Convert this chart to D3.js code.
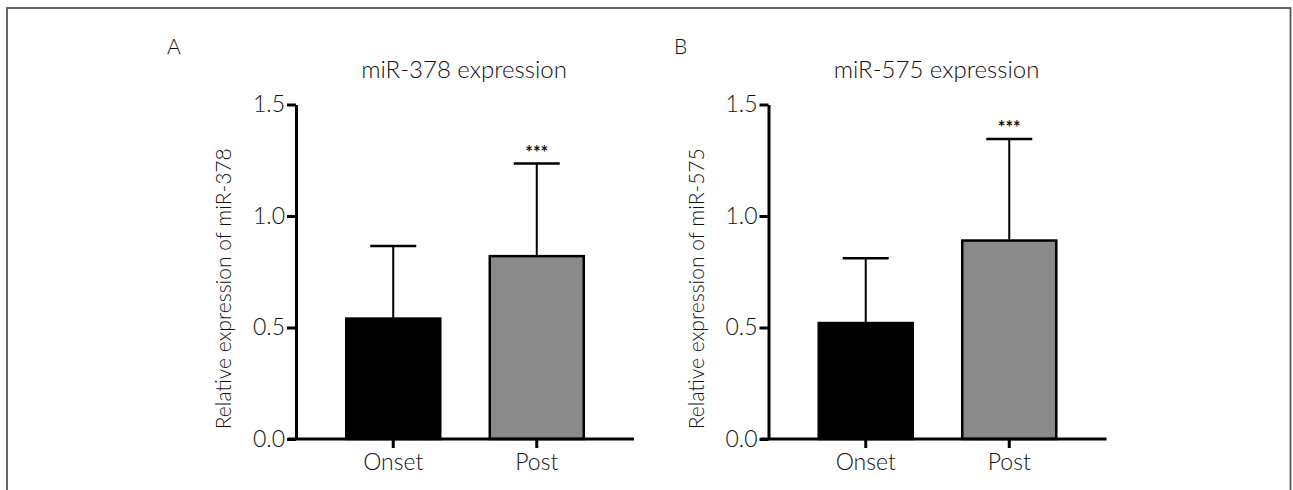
<!DOCTYPE html>
<html>
<head>
<meta charset="utf-8">
<script src="https://cdn.jsdelivr.net/npm/d3@7"></script>
<style>
  body { margin: 0; background: #fff; }
  text { font-family: Lato, "Open Sans", sans-serif; fill: #111; }
  .axis path, .axis line { stroke: #000; stroke-width: 3; }
  .axis text { font-size: 23px; font-weight: 300; fill: #111; }
</style>
</head>
<body>
<div id="graph"></div>
<script>
// Data
const groups = ["Onset", "Post"];
const mir378Means = [0.54, 0.82];
const mir378Errors = [0.325, 0.415];
const mir575Means = [0.52, 0.89];
const mir575Errors = [0.29, 0.455];
const yTicks = [0.0, 0.5, 1.0, 1.5];
const barColors = ["#000000", "#8a8a8a"];

const fWidth = 1293, fHeight = 490;
const pw = 338, ph = 334.5;

const svg = d3.select("#graph").append("svg")
    .attr("width", fWidth)
    .attr("height", fHeight);

// Frame around the figure
svg.append("rect")
    .attr("x", 7).attr("y", 8)
    .attr("width", 1283.5).attr("height", 500)
    .attr("fill", "none")
    .attr("stroke", "#555")
    .attr("stroke-width", 1.8);

function panel(left, letter, letterX, title, yLabel, means, errors) {
  const g = svg.append("g").attr("transform", `translate(${left}, 104.5)`);

  const x = d3.scaleBand().domain(groups).range([0, pw])
      .paddingInner(0.345).paddingOuter(0.35);
  const y = d3.scaleLinear().domain([0, 1.5]).range([ph, 0]);

  const data = groups.map((k, i) => ({ k, m: means[i], e: errors[i], c: barColors[i] }));

  // error bars (upper only)
  g.selectAll(".err").data(data).join("line")
      .attr("x1", d => x(d.k) + x.bandwidth() / 2)
      .attr("x2", d => x(d.k) + x.bandwidth() / 2)
      .attr("y1", d => y(d.m))
      .attr("y2", d => y(d.m + d.e))
      .attr("stroke", "#000").attr("stroke-width", 2);
  g.selectAll(".cap").data(data).join("line")
      .attr("x1", d => x(d.k) + x.bandwidth() / 2 - 23)
      .attr("x2", d => x(d.k) + x.bandwidth() / 2 + 23)
      .attr("y1", d => y(d.m + d.e))
      .attr("y2", d => y(d.m + d.e))
      .attr("stroke", "#000").attr("stroke-width", 2.5);

  // bars
  g.selectAll(".bar").data(data).join("rect")
      .attr("x", d => x(d.k))
      .attr("y", d => y(d.m))
      .attr("width", x.bandwidth())
      .attr("height", d => y(0) - y(d.m))
      .attr("fill", d => d.c)
      .attr("stroke", "#000").attr("stroke-width", 2.5);

  // significance
  const post = data[1];
  g.append("text")
      .attr("x", x(post.k) + x.bandwidth() / 2)
      .attr("y", y(post.m + post.e) - 5)
      .attr("text-anchor", "middle")
      .style("font-size", "18px").style("font-weight", "bold")
      .text("***");

  // axes
  g.append("g").attr("class", "axis")
      .call(d3.axisLeft(y).tickValues(yTicks).tickFormat(d3.format(".1f"))
        .tickSize(9).tickSizeOuter(0).tickPadding(2));
  g.append("g").attr("class", "axis")
      .attr("transform", `translate(0, ${ph})`)
      .call(d3.axisBottom(x).tickSize(9).tickSizeOuter(0).tickPadding(6))
      .call(a => a.select(".domain").attr("d", `M-8,0H${pw}`));

  // y label
  g.append("text")
      .attr("transform", `translate(-65, ${ph / 2 + 17}) rotate(-90)`)
      .attr("text-anchor", "middle")
      .style("font-size", "21px").style("font-weight", "300")
      .text(yLabel);

  // title
  svg.append("text")
      .attr("x", left + 168).attr("y", 78)
      .attr("text-anchor", "middle")
      .style("font-size", "24px").style("font-weight", "300")
      .text(title);

  // panel letter
  svg.append("text")
      .attr("x", letterX).attr("y", 54)
      .style("font-size", "21px").style("font-weight", "300")
      .text(letter);
}

panel(296, "A", 167, "miR-378 expression", "Relative expression of miR-378", mir378Means, mir378Errors);
panel(768.5, "B", 674, "miR-575 expression", "Relative expression of miR-575", mir575Means, mir575Errors);
</script>
</body>
</html>
